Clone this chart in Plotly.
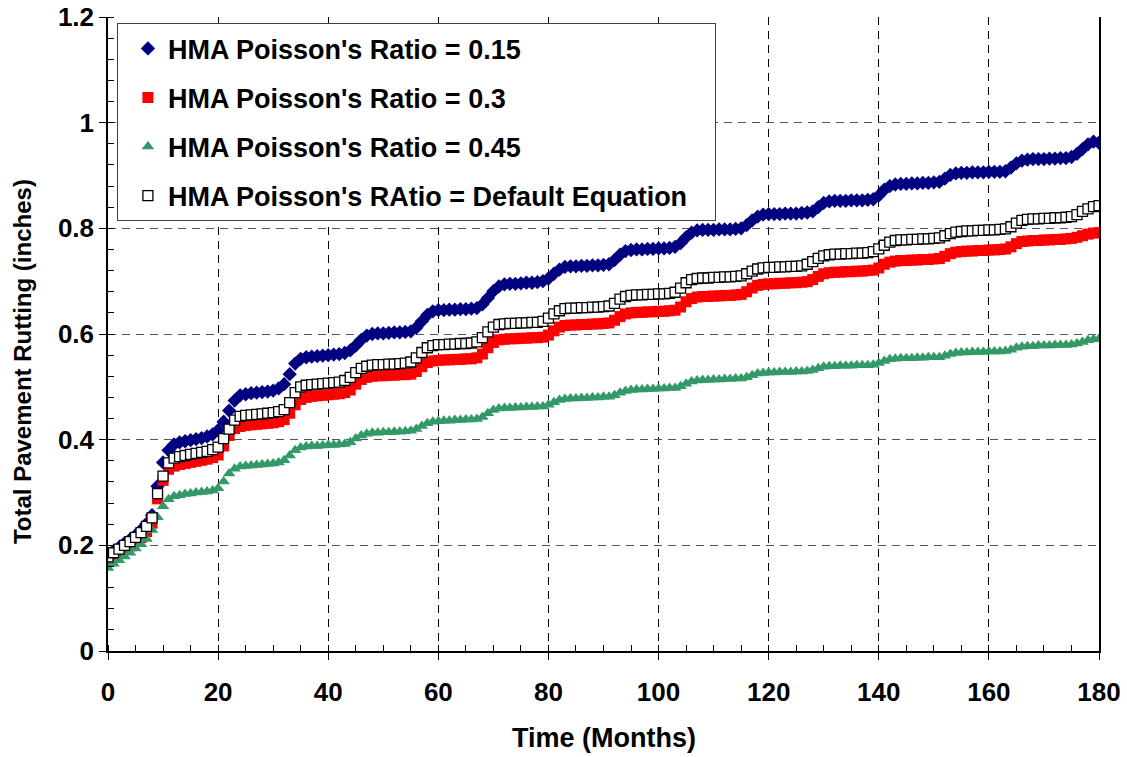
import plotly.graph_objects as go

# Monthly total rutting predictions (inches) for four HMA Poisson's ratio settings
months = list(range(181))

rut_015 = [
    0.180, 0.189, 0.196, 0.204, 0.211, 0.219, 0.229, 0.241, 0.257, 0.312, 0.357, 0.380,
    0.391, 0.395, 0.397, 0.399, 0.401, 0.403, 0.406, 0.410, 0.418, 0.434, 0.455, 0.474,
    0.484, 0.486, 0.488, 0.489, 0.490, 0.491, 0.493, 0.497, 0.505, 0.524, 0.544, 0.553,
    0.556, 0.557, 0.558, 0.559, 0.560, 0.561, 0.562, 0.564, 0.569, 0.578, 0.589, 0.597,
    0.600, 0.601, 0.601, 0.602, 0.603, 0.603, 0.604, 0.605, 0.612, 0.624, 0.636, 0.643,
    0.645, 0.645, 0.646, 0.646, 0.647, 0.647, 0.648, 0.649, 0.656, 0.668, 0.681, 0.690,
    0.694, 0.695, 0.695, 0.696, 0.697, 0.697, 0.698, 0.700, 0.705, 0.714, 0.722, 0.727,
    0.728, 0.728, 0.729, 0.729, 0.730, 0.730, 0.731, 0.732, 0.740, 0.750, 0.757, 0.759,
    0.760, 0.760, 0.761, 0.761, 0.762, 0.762, 0.763, 0.765, 0.772, 0.783, 0.792, 0.796,
    0.797, 0.797, 0.797, 0.798, 0.798, 0.798, 0.799, 0.800, 0.806, 0.815, 0.822, 0.826,
    0.827, 0.827, 0.827, 0.828, 0.828, 0.828, 0.829, 0.830, 0.832, 0.840, 0.848, 0.851,
    0.852, 0.852, 0.852, 0.853, 0.853, 0.853, 0.854, 0.855, 0.862, 0.873, 0.880, 0.883,
    0.884, 0.884, 0.885, 0.885, 0.886, 0.886, 0.887, 0.888, 0.894, 0.901, 0.904, 0.905,
    0.905, 0.906, 0.906, 0.906, 0.907, 0.907, 0.907, 0.908, 0.915, 0.923, 0.928, 0.930,
    0.931, 0.931, 0.931, 0.932, 0.932, 0.933, 0.933, 0.935, 0.941, 0.950, 0.959, 0.964,
    0.962,
]

rut_030 = [
    0.171, 0.178, 0.185, 0.192, 0.199, 0.207, 0.215, 0.226, 0.242, 0.288, 0.323, 0.344,
    0.350, 0.353, 0.355, 0.357, 0.359, 0.361, 0.363, 0.366, 0.371, 0.388, 0.408, 0.421,
    0.425, 0.427, 0.428, 0.429, 0.430, 0.431, 0.432, 0.434, 0.438, 0.450, 0.466, 0.476,
    0.480, 0.482, 0.483, 0.484, 0.485, 0.486, 0.487, 0.489, 0.494, 0.505, 0.514, 0.518,
    0.520, 0.521, 0.521, 0.522, 0.522, 0.523, 0.523, 0.524, 0.529, 0.538, 0.546, 0.549,
    0.550, 0.551, 0.551, 0.552, 0.552, 0.553, 0.553, 0.555, 0.562, 0.574, 0.584, 0.589,
    0.590, 0.591, 0.591, 0.592, 0.592, 0.593, 0.593, 0.594, 0.598, 0.606, 0.613, 0.616,
    0.617, 0.617, 0.618, 0.618, 0.619, 0.619, 0.620, 0.621, 0.626, 0.633, 0.638, 0.640,
    0.641, 0.641, 0.642, 0.642, 0.643, 0.643, 0.644, 0.645, 0.651, 0.661, 0.667, 0.670,
    0.671, 0.671, 0.672, 0.672, 0.673, 0.673, 0.674, 0.675, 0.680, 0.687, 0.692, 0.694,
    0.695, 0.695, 0.696, 0.696, 0.697, 0.697, 0.698, 0.699, 0.703, 0.709, 0.714, 0.716,
    0.717, 0.717, 0.718, 0.718, 0.719, 0.719, 0.720, 0.721, 0.725, 0.732, 0.736, 0.738,
    0.739, 0.739, 0.740, 0.740, 0.741, 0.741, 0.742, 0.743, 0.747, 0.752, 0.755, 0.756,
    0.757, 0.757, 0.758, 0.758, 0.759, 0.759, 0.760, 0.761, 0.765, 0.771, 0.775, 0.776,
    0.777, 0.777, 0.778, 0.778, 0.779, 0.779, 0.780, 0.781, 0.783, 0.786, 0.789, 0.791,
    0.792,
]

rut_045 = [
    0.157, 0.165, 0.172, 0.179, 0.186, 0.194, 0.202, 0.212, 0.229, 0.253, 0.274, 0.287,
    0.293, 0.295, 0.297, 0.298, 0.300, 0.301, 0.302, 0.304, 0.308, 0.321, 0.336, 0.345,
    0.349, 0.350, 0.351, 0.352, 0.353, 0.354, 0.355, 0.357, 0.361, 0.370, 0.380, 0.385,
    0.387, 0.388, 0.388, 0.389, 0.390, 0.390, 0.391, 0.392, 0.395, 0.402, 0.408, 0.411,
    0.413, 0.413, 0.414, 0.414, 0.415, 0.415, 0.416, 0.417, 0.420, 0.426, 0.431, 0.434,
    0.435, 0.436, 0.436, 0.437, 0.437, 0.438, 0.438, 0.439, 0.443, 0.450, 0.456, 0.459,
    0.460, 0.460, 0.461, 0.461, 0.462, 0.462, 0.463, 0.463, 0.466, 0.471, 0.475, 0.477,
    0.478, 0.478, 0.479, 0.479, 0.480, 0.480, 0.481, 0.481, 0.484, 0.489, 0.492, 0.494,
    0.495, 0.495, 0.496, 0.496, 0.497, 0.497, 0.498, 0.498, 0.501, 0.506, 0.510, 0.512,
    0.513, 0.513, 0.514, 0.514, 0.515, 0.515, 0.516, 0.516, 0.518, 0.522, 0.525, 0.526,
    0.527, 0.527, 0.528, 0.528, 0.528, 0.529, 0.529, 0.530, 0.532, 0.535, 0.538, 0.539,
    0.539, 0.540, 0.540, 0.540, 0.541, 0.541, 0.541, 0.542, 0.545, 0.549, 0.552, 0.553,
    0.554, 0.554, 0.554, 0.555, 0.555, 0.556, 0.556, 0.556, 0.559, 0.562, 0.564, 0.565,
    0.565, 0.566, 0.566, 0.566, 0.567, 0.567, 0.567, 0.568, 0.570, 0.574, 0.576, 0.577,
    0.577, 0.578, 0.578, 0.578, 0.579, 0.579, 0.579, 0.580, 0.582, 0.585, 0.588, 0.590,
    0.591,
]

rut_default = [
    0.178, 0.186, 0.193, 0.200, 0.207, 0.215, 0.224, 0.236, 0.252, 0.298, 0.331, 0.356,
    0.365, 0.368, 0.370, 0.372, 0.374, 0.376, 0.378, 0.381, 0.386, 0.402, 0.420, 0.437,
    0.444, 0.446, 0.447, 0.448, 0.449, 0.450, 0.451, 0.453, 0.457, 0.470, 0.489, 0.500,
    0.503, 0.504, 0.505, 0.506, 0.507, 0.508, 0.509, 0.512, 0.518, 0.527, 0.535, 0.539,
    0.541, 0.542, 0.542, 0.543, 0.543, 0.544, 0.545, 0.547, 0.555, 0.565, 0.574, 0.578,
    0.580, 0.580, 0.581, 0.581, 0.582, 0.582, 0.583, 0.585, 0.593, 0.604, 0.613, 0.618,
    0.619, 0.620, 0.620, 0.621, 0.621, 0.622, 0.622, 0.624, 0.630, 0.638, 0.644, 0.648,
    0.649, 0.649, 0.650, 0.650, 0.651, 0.651, 0.652, 0.653, 0.658, 0.666, 0.671, 0.673,
    0.674, 0.674, 0.675, 0.675, 0.676, 0.676, 0.677, 0.679, 0.687, 0.697, 0.703, 0.705,
    0.706, 0.706, 0.707, 0.707, 0.708, 0.708, 0.709, 0.710, 0.714, 0.719, 0.723, 0.725,
    0.726, 0.726, 0.727, 0.727, 0.728, 0.728, 0.729, 0.732, 0.737, 0.743, 0.748, 0.750,
    0.751, 0.751, 0.752, 0.752, 0.753, 0.753, 0.754, 0.756, 0.761, 0.768, 0.774, 0.777,
    0.778, 0.778, 0.779, 0.779, 0.780, 0.780, 0.781, 0.782, 0.786, 0.790, 0.793, 0.794,
    0.795, 0.795, 0.796, 0.796, 0.797, 0.797, 0.798, 0.799, 0.803, 0.810, 0.815, 0.817,
    0.818, 0.818, 0.819, 0.819, 0.820, 0.820, 0.821, 0.822, 0.826, 0.832, 0.837, 0.841,
    0.843,
]

series_names = [
    "HMA Poisson's Ratio = 0.15",
    "HMA Poisson's Ratio = 0.3",
    "HMA Poisson's Ratio = 0.45",
    "HMA Poisson's RAtio = Default Equation",
]

x_title = "Time (Months)"
y_title = "Total Pavement Rutting (inches)"

FONT = "Liberation Sans, Arial, sans-serif"
# non-breaking spaces pad the widest entry so the legend box keeps some room on the right
LEGEND_PAD = "\u00a0\u00a0\u00a0"

styles = [
    dict(symbol="diamond", size=11, color="#000080", line=dict(width=0)),
    dict(symbol="square", size=11, color="#FF0000", line=dict(width=0)),
    dict(symbol="triangle-up", size=11, color="#339966", line=dict(width=0)),
    dict(symbol="square", size=10, color="#FFFFFF", line=dict(width=1.3, color="#000000")),
]

fig = go.Figure()
for i, (name, ys, mk) in enumerate(zip(series_names, [rut_015, rut_030, rut_045, rut_default], styles)):
    fig.add_trace(go.Scatter(
        x=months, y=ys, mode="markers",
        name=name + (LEGEND_PAD if i == 3 else ""),
        marker=mk, legendgroup=f"g{i}",
    ))

tick_font = dict(family=FONT, size=26, color="#000000", weight="bold")
x_title_font = dict(family=FONT, size=27, color="#000000", weight="bold")
y_title_font = dict(family=FONT, size=24, color="#000000", weight="bold")

fig.update_layout(
    width=1127, height=757,
    margin=dict(l=108, r=28, t=17, b=106),
    paper_bgcolor="#FFFFFF", plot_bgcolor="#FFFFFF",
    font=dict(family=FONT, color="#000000"),
    showlegend=True,
    legend=dict(
        x=0.009, y=0.990, xanchor="left", yanchor="top",
        bgcolor="#FFFFFF", bordercolor="#404040", borderwidth=1,
        font=dict(family=FONT, size=27, color="#000000", weight="bold"),
        traceorder="grouped", tracegroupgap=11,
        indentation=10,
    ),
    xaxis=dict(
        range=[0, 180], tickmode="linear", tick0=0, dtick=20,
        ticks="outside", ticklen=7, tickwidth=1, tickcolor="#000000",
        showline=True, linecolor="#000000", linewidth=1.5,
        showgrid=True, gridcolor="#000000", gridwidth=1, griddash="8px,6px",
        zeroline=False, automargin=False,
        tickfont=tick_font, ticklabelstandoff=10,
        minor=dict(dtick=5, ticks="inside", ticklen=6, tickcolor="#000000", showgrid=False),
    ),
    yaxis=dict(
        range=[0, 1.2], tickmode="linear", tick0=0, dtick=0.2,
        ticks="outside", ticklen=7, tickwidth=1, tickcolor="#000000",
        showline=True, linecolor="#000000", linewidth=1.5, mirror=True,
        showgrid=True, gridcolor="#555555", gridwidth=1, griddash="8px,6px",
        zeroline=False, automargin=False,
        tickfont=tick_font,
        minor=dict(dtick=0.04, ticks="inside", ticklen=6, tickcolor="#000000", showgrid=False),
    ),
    annotations=[
        dict(text=x_title, xref="paper", yref="paper", x=0.5, y=-0.137,
             xanchor="center", yanchor="middle", showarrow=False, font=x_title_font),
        dict(text=y_title, xref="paper", yref="paper", x=-0.087, y=0.457,
             xanchor="center", yanchor="middle", textangle=-90, showarrow=False, font=y_title_font),
    ],
)

fig.write_html("out.html")
